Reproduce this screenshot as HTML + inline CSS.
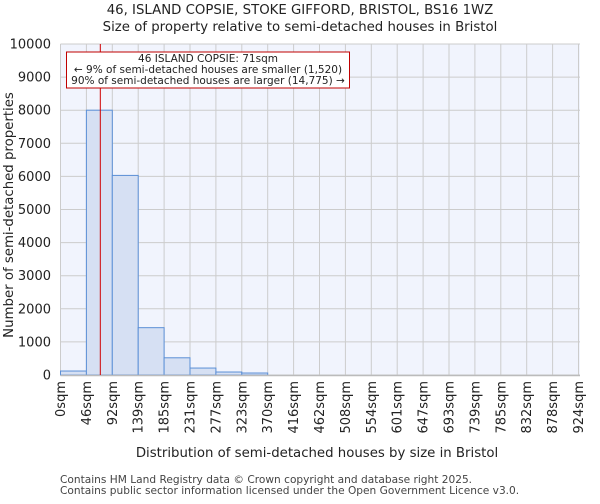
<!DOCTYPE html>
<html><head><meta charset="utf-8"><style>
body{margin:0;background:#fff;font-family:"DejaVu Sans","Liberation Sans",sans-serif}
</style></head><body>
<svg width="600" height="500" xmlns="http://www.w3.org/2000/svg" font-family="DejaVu Sans, Liberation Sans, sans-serif">
<text x="300" y="14" text-anchor="middle" font-size="13.3" fill="#222">46, ISLAND COPSIE, STOKE GIFFORD, BRISTOL, BS16 1WZ</text>
<text x="300" y="31" text-anchor="middle" font-size="13.3" fill="#222">Size of property relative to semi-detached houses in Bristol</text>
<rect x="60.5" y="44" width="519.5" height="331" fill="#f1f4fd"/>
<g id="grid"></g>
<g id="bars"></g>
<g id="ticks"></g>
<text transform="translate(13,215) rotate(-90)" text-anchor="middle" font-size="13.3" fill="#222">Number of semi-detached properties</text>
<text x="317" y="457" text-anchor="middle" font-size="13.3" fill="#222">Distribution of semi-detached houses by size in Bristol</text>
<line id="marker" y1="44" y2="375" stroke="#d00000" stroke-width="1"/>
<g>
<rect x="66.5" y="52" width="283" height="36" fill="#fff" stroke="#c00000" stroke-width="1"/>
<text x="208" y="62" text-anchor="middle" font-size="10.5" fill="#222">46 ISLAND COPSIE: 71sqm</text>
<text x="208" y="73" text-anchor="middle" font-size="10.5" fill="#222">← 9% of semi-detached houses are smaller (1,520)</text>
<text x="208" y="84" text-anchor="middle" font-size="10.5" fill="#222">90% of semi-detached houses are larger (14,775) →</text>
</g>
<text x="60" y="483" font-size="10.6" fill="#444">Contains HM Land Registry data © Crown copyright and database right 2025.</text>
<text x="60" y="494" font-size="10.6" fill="#444">Contains public sector information licensed under the Open Government Licence v3.0.</text>
</svg>
<script>
const binLabels=["0sqm","46sqm","92sqm","139sqm","185sqm","231sqm","277sqm","323sqm","370sqm","416sqm","462sqm","508sqm","554sqm","601sqm","647sqm","693sqm","739sqm","785sqm","832sqm","878sqm","924sqm"];
const counts=[120,8000,6030,1430,520,210,90,60,0,0,0,0,0,0,0,0,0,0,0,0];
const yTicks=[0,1000,2000,3000,4000,5000,6000,7000,8000,9000,10000];
const binWidthSqm=46.2;
const propertySize=71;
const NS="http://www.w3.org/2000/svg";
const X0=60.5,BW=25.9,Y0=375,YT=44,YMAX=10000;
const xs=i=>X0+i*BW;
const ys=v=>Y0-(v/YMAX)*(Y0-YT);
function mk(t,a,p){const e=document.createElementNS(NS,t);for(const k in a)e.setAttribute(k,a[k]);p.appendChild(e);return e;}
const grid=document.getElementById('grid'),bars=document.getElementById('bars'),ticks=document.getElementById('ticks');
yTicks.forEach(v=>{
 const l=mk('line',{x1:X0,x2:580,y1:ys(v),y2:ys(v),stroke:'#cccccc','stroke-width':1},grid);
 
 
 const t=mk('text',{x:51,y:ys(v)+4.5,'text-anchor':'end','font-size':13,fill:'#222'},ticks);
 t.textContent=v;
 
 
});
binLabels.forEach((s,i)=>{
 const x=xs(i);
 const l=mk('line',{x1:x,x2:x,y1:YT,y2:Y0,stroke:'#cccccc','stroke-width':1},grid);
 
 
 const t=mk('text',{transform:`translate(${x+4.5},381) rotate(-90)`,'text-anchor':'end','font-size':13,fill:'#222'},ticks);
 t.textContent=s;
 
 
});
counts.forEach((c,i)=>{
 if(c<=0)return;
 const r=mk('rect',{x:xs(i),y:ys(c),width:BW,height:Y0-ys(c),fill:'#d6e0f3',stroke:'#5b8fd6','stroke-width':1},bars);
 
 
});
const ax=mk('line',{x1:X0,x2:580,y1:Y0+0.5,y2:Y0+0.5,stroke:'#bbb','stroke-width':1.5},ticks);


const mx=xs(propertySize/binWidthSqm);
const m=document.getElementById('marker');m.setAttribute('x1',mx);m.setAttribute('x2',mx);
</script>
</body></html>
